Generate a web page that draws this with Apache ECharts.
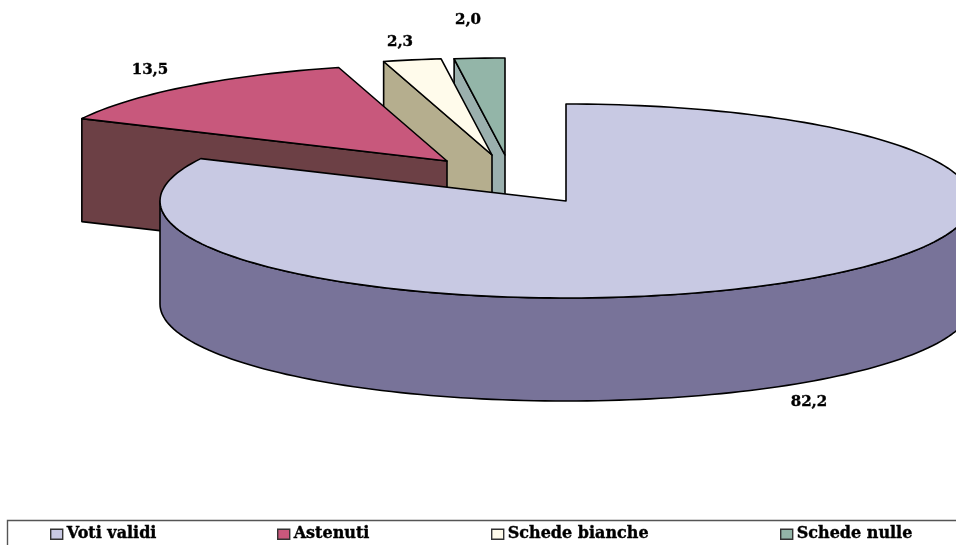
<!DOCTYPE html>
<html>
<head>
<meta charset="utf-8">
<style>html,body{margin:0;padding:0;background:#fff;overflow:hidden}#chart{width:956px;height:545px}</style>
<script src="https://cdn.jsdelivr.net/npm/echarts@6/dist/echarts.min.js"></script>
</head>
<body>
<div id="chart"></div>
<script>
// Voting outcome shares, percent
const categories = ['Voti validi', 'Astenuti', 'Schede bianche', 'Schede nulle'];
const shares = [82.2, 13.5, 2.3, 2.0];
const shareLabels = ['82,2', '13,5', '2,3', '2,0'];

// Presentation
const topColors = ['#C8C9E3', '#C8587C', '#FFFBEB', '#93B5A8'];
const wallColors = ['#787399', '#6C4045', '#B5AE8E', '#9BB0AE'];
const explode = [[0, 0], [-119, -40], [-74, -46], [-61, -46]];
const labelAnchors = [[809, 402], [150, 70], [400, 42], [468, 20]];
const legendLeft = [50, 277, 491, 780];

const PIVOT = [566, 201], RX = 406, RY = 97, DEPTH = 103;
const DEG = Math.PI / 180;
const total = shares.reduce((a, b) => a + b, 0);

function sliceAngles(index) {
  const before = shares.slice(0, index).reduce((a, b) => a + b, 0);
  return [before / total * 360, (before + shares[index]) / total * 360];
}

function rimPoint(c, deg, drop) {
  return [c[0] + RX * Math.sin(deg * DEG), c[1] - RY * Math.cos(deg * DEG) + (drop || 0)];
}

function arcPoints(c, from, to, drop) {
  const pts = [];
  const steps = Math.max(2, Math.ceil(Math.abs(to - from) / 1.5));
  for (let i = 0; i <= steps; i++) pts.push(rimPoint(c, from + (to - from) * i / steps, drop));
  return pts;
}

const lineStyle = { stroke: '#000', lineWidth: 1.6, lineJoin: 'round' };

function poly(points, fill) {
  return { type: 'polygon', shape: { points }, style: Object.assign({ fill }, lineStyle) };
}

function renderSlice(params, api) {
  const i = categories.indexOf(params.seriesName);
  const [start, end] = sliceAngles(i);
  const c = [PIVOT[0] + explode[i][0], PIVOT[1] + explode[i][1]];
  const children = [];

  // Radial wall on the start edge, when it faces the viewer
  if (Math.sin(start * DEG) < -1e-6) {
    const p = rimPoint(c, start);
    children.push(poly([c, p, [p[0], p[1] + DEPTH], [c[0], c[1] + DEPTH]], wallColors[i]));
  }
  // Outer wall along the front half of the rim
  const a = Math.max(start, 90), b = Math.min(end, 270);
  if (b > a) {
    children.push(poly(arcPoints(c, a, b, 0).concat(arcPoints(c, b, a, DEPTH)), wallColors[i]));
  }
  // Top face
  children.push(poly([c].concat(arcPoints(c, start, end, 0)), topColors[i]));
  // Value label
  children.push({
    type: 'text',
    style: {
      x: labelAnchors[i][0], y: labelAnchors[i][1],
      text: shareLabels[i], fill: '#000',
      stroke: '#000', lineWidth: 0.4,
      font: 'bold 15px "DejaVu Serif"', align: 'center', verticalAlign: 'middle'
    }
  });
  return { type: 'group', children };
}

// Painted back to front so the nearer slices overlap the farther ones
const series = [3, 2, 1, 0].map(i => ({
  type: 'custom',
  name: categories[i],
  coordinateSystem: 'none',
  silent: true,
  clip: false,
  itemStyle: { color: topColors[i] },
  data: [[shares[i]]],
  renderItem: renderSlice
}));

const legend = categories.map((name, i) => ({
  left: legendLeft[i], top: 526,
  padding: 0, itemGap: 0,
  icon: 'rect', itemWidth: 12, itemHeight: 10,
  selectedMode: false,
  textStyle: {
    fontFamily: 'DejaVu Serif', fontWeight: 'bold', fontSize: 16, color: '#000',
    textBorderColor: '#000', textBorderWidth: 0.4, padding: [0, 0, 0, -1]
  },
  data: [{ name, itemStyle: { color: topColors[i], borderColor: '#333', borderWidth: 1.4 } }]
}));

const chart = echarts.init(document.getElementById('chart'), null, { renderer: 'canvas' });
chart.setOption({
  animation: false,
  backgroundColor: '#fff',
  legend,
  graphic: [{
    type: 'rect', silent: true, z: 0,
    shape: { x: 7.5, y: 520.5, width: 1000, height: 100 },
    style: { fill: 'none', stroke: '#555', lineWidth: 1.4 }
  }],
  series
});
</script>
</body>
</html>
